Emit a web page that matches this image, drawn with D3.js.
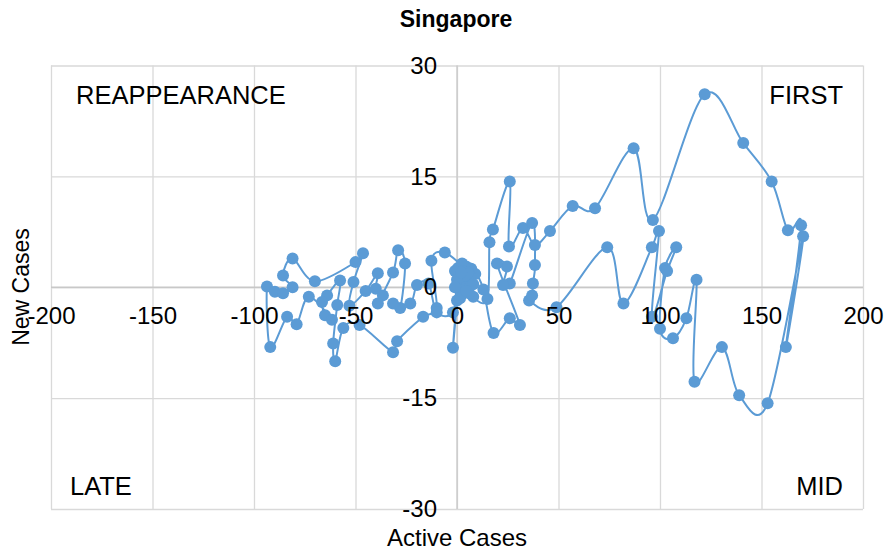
<!DOCTYPE html>
<html>
<head>
<meta charset="utf-8">
<script src="https://cdn.jsdelivr.net/npm/d3@7"></script>
<style>
	body { margin: 0; background: #ffffff; }
	text { font-family: 'Liberation Sans', Arial, sans-serif; fill: #000000; }
</style>
</head>
<body>
<svg id="chart" width="888" height="556"></svg>
<script>
// 데이터 (그림에서 읽은 값, 시간 순서)
const activeCases = [
	0, 1.5, 0.5, 3, 2, 4.5, 6, 8, 15, 16, 17.7, 26, 25.6, 32.5, 38.4, 45.8, 57, 68, 87, 96.5,
	122, 141, 155, 163, 169.5, 162, 170.5, 153, 139, 130.5, 117, 118, 113, 106.4, 100, 102.5, 108, 103.5, 96, 99.5,
	96, 82, 74, 49, 35.5, 37, 37.4, 38.4, 37, 26, 22.7, 24.6, 19.7, 31, 26, 18, 13, 9, 5, 7,
	2.5, 4, 1, -1, 2, 0, -2, 1, 3, 6, 4, 8, 5.5, -6, -12.6, -10, -16.7, -29.5, -31.5, -48,
	-56, -60, -61, -59, -57.6, -64, -66.5, -65, -61.6, -73, -79, -83.7, -92, -93.6, -89.7, -85.7, -81, -85.7, -81, -70,
	-50, -46.3, -51, -53, -45, -39, -40, -36.5, -39, -31.5, -29, -25.6, -28, -31.5, -23, -19.7, -14, -10, -2, 0,
	2, -1, 1.5, 4.5
];
const newCases = [
	0.3, 1.5, 2.6, 1.8, -0.3, 2.8, 1.2, -1.3, -1.6, 6.1, 7.8, 14.3, 5.5, 8, 5.7, 7.6, 11, 10.7, 18.8, 9.1,
	26.1, 19.5, 14.3, 7.7, 8.4, -8.1, 6.9, -15.7, -14.6, -8.1, -12.8, 1, -4.2, -6.9, -5.6, 2.6, 5.4, 2.2, -4, 7.6,
	5.4, -2.2, 5.4, -2.7, -1.8, -1.1, 0.5, 3, 8.7, 0.5, 0.3, 2.8, 3.2, -5.1, -4.2, -6.2, -0.3, 1.8, 0.5, 2.5,
	3.2, 0, 1, 2.2, -1, -1.8, -8.2, 0.5, 2.2, -0.8, 1.6, 0.4, 2, 4.7, 3.6, -2.8, -4, -7.3, -8.8, -5.1,
	-5.5, -10, -7.6, -2.4, 0.9, -1.1, -2, -3.8, -4.4, -1.3, -5, -4, -8.1, 0.1, -0.6, -0.8, 0, 1.6, 3.9, 0.8,
	3.4, 4.6, 0.7, -2.5, -0.5, 1.9, -0.2, -1.1, -2.2, 2, 5, 3.2, -2.8, -2.2, -2.2, 0.3, 0.5, -3.4, -3.4, 1,
	2, 0, -1.5, -0.5
];

const xTicks = [-200, -150, -100, -50, 0, 50, 100, 150, 200];
const yTicks = [-30, -15, 0, 15, 30];

const quadrants = [
	{ name: 'REAPPEARANCE', corner: 'tl' },
	{ name: 'FIRST', corner: 'tr' },
	{ name: 'LATE', corner: 'bl' },
	{ name: 'MID', corner: 'br' }
];

const chart = {

	svg: d3.select('#chart'),
	color: '#5b9bd5',
	area: { left: 51, right: 863, top: 65.5, bottom: 509 },	// 플롯 영역
	x: null,
	y: null,

	setScale: function() {
		this.x = d3.scaleLinear().domain([-200, 200]).range([this.area.left, this.area.right]);
		this.y = d3.scaleLinear().domain([-30, 30]).range([this.area.bottom, this.area.top]);
		return this;
	},

	// 격자선
	grid: function() {
		const a = this.area;

		const gx = this.svg.append('g')
			.attr('transform', 'translate(0,' + a.bottom + ')')
			.call(d3.axisBottom(this.x).tickValues(xTicks).tickSize(-(a.bottom - a.top)).tickFormat(''));
		const gy = this.svg.append('g')
			.attr('transform', 'translate(' + a.left + ',0)')
			.call(d3.axisLeft(this.y).tickValues(yTicks).tickSize(-(a.right - a.left)).tickFormat(''));

		[gx, gy].forEach(function(g) {
			g.select('.domain').remove();
			g.selectAll('line').style('stroke', '#d9d9d9').style('stroke-width', 1.3);
		});

		// 0 축선
		this.svg.append('line')
			.attr('x1', a.left).attr('x2', a.right)
			.attr('y1', this.y(0)).attr('y2', this.y(0))
			.style('stroke', '#c8c8c8').style('stroke-width', 1.3);
		this.svg.append('line')
			.attr('x1', this.x(0)).attr('x2', this.x(0))
			.attr('y1', a.top).attr('y2', a.bottom)
			.style('stroke', '#c8c8c8').style('stroke-width', 1.3);

		return this;
	},

	// 선 + 점
	series: function() {
		const self = this;
		const pts = activeCases.map(function(v, i) { return [v, newCases[i]]; });

		const line = d3.line()
			.x(function(d) { return self.x(d[0]); })
			.y(function(d) { return self.y(d[1]); })
			.curve(d3.curveCatmullRom.alpha(0));	// 엑셀 부드러운 선

		this.svg.append('path')
			.datum(pts)
			.attr('d', line)
			.style('fill', 'none')
			.style('stroke', this.color)
			.style('stroke-width', 2);

		this.svg.append('g')
			.selectAll('circle')
			.data(pts)
			.join('circle')
			.attr('cx', function(d) { return self.x(d[0]); })
			.attr('cy', function(d) { return self.y(d[1]); })
			.attr('r', 6)
			.style('fill', this.color);

		return this;
	},

	// 눈금 라벨
	labels: function() {
		const gx = this.svg.append('g')
			.attr('transform', 'translate(0,' + this.y(0) + ')')
			.call(d3.axisBottom(this.x).tickValues(xTicks).tickSize(0).tickPadding(20).tickFormat(function(d) { return String(d); }));
		const gy = this.svg.append('g')
			.attr('transform', 'translate(' + this.x(0) + ',0)')
			.call(d3.axisLeft(this.y).tickValues(yTicks).tickSize(0).tickPadding(20).tickFormat(function(d) { return String(d); }));

		[gx, gy].forEach(function(g) {
			g.select('.domain').remove();
			g.selectAll('text')
				.attr('font-family', "'Liberation Sans', Arial, sans-serif")
				.attr('font-size', '24px')
				.style('fill', '#000000');
		});
		return this;
	},

	// 제목, 축 제목, 사분면
	texts: function() {
		const a = this.area;

		this.svg.append('text')
			.attr('x', 456).attr('y', 27)
			.attr('font-size', '23px')
			.style('font-weight', 'bold')
			.style('text-anchor', 'middle')
			.text('Singapore');

		this.svg.append('text')
			.attr('x', 457).attr('y', 546)
			.attr('font-size', '24px')
			.style('text-anchor', 'middle')
			.text('Active Cases');

		this.svg.append('text')
			.attr('transform', 'translate(29,287) rotate(-90)')
			.attr('font-size', '23px')
			.style('text-anchor', 'middle')
			.text('New Cases');

		const pos = {
			tl: { x: a.left + 25, y: 104, anchor: 'start' },
			tr: { x: a.right - 20, y: 104, anchor: 'end' },
			bl: { x: a.left + 19, y: 495, anchor: 'start' },
			br: { x: a.right - 20, y: 495, anchor: 'end' }
		};
		const svg = this.svg;
		quadrants.forEach(function(q) {
			const p = pos[q.corner];
			svg.append('text')
				.attr('x', p.x).attr('y', p.y)
				.attr('font-size', '25.5px')
				.style('text-anchor', p.anchor)
				.text(q.name);
		});
		return this;
	}
};

chart.setScale().grid().series().labels().texts();
</script>
</body>
</html>
